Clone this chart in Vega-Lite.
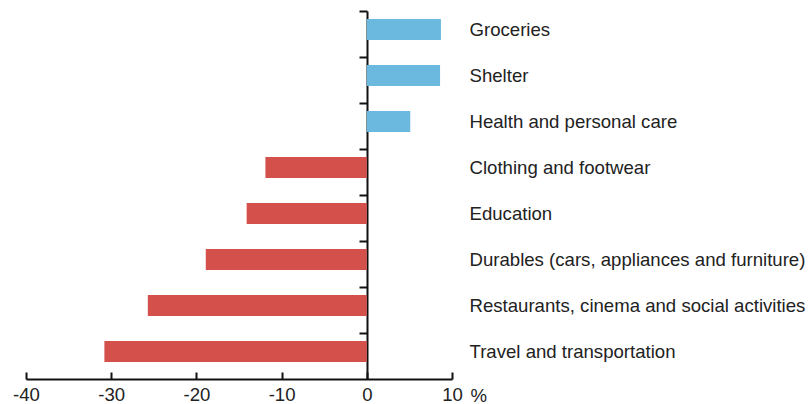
{
  "$schema": "https://vega.github.io/schema/vega-lite/v6.json",
  "autosize": "none",
  "width": 426,
  "height": 368,
  "padding": {"left": 26, "top": 11, "right": 359, "bottom": 25},
  "background": "white",
  "config": {"view": {"stroke": null}, "font": "Liberation Sans"},
  "data": {
    "values": [
      {"category": "Groceries", "change": 8.7},
      {"category": "Shelter", "change": 8.6},
      {"category": "Health and personal care", "change": 5.1},
      {"category": "Clothing and footwear", "change": -11.9},
      {"category": "Education", "change": -14.1},
      {"category": "Durables (cars, appliances and furniture)", "change": -18.9},
      {"category": "Restaurants, cinema and social activities", "change": -25.7},
      {"category": "Travel and transportation", "change": -30.8}
    ]
  },
  "mark": {"type": "bar", "yOffset": -4.5},
  "encoding": {
    "y": {
      "field": "category",
      "type": "nominal",
      "sort": null,
      "scale": {"paddingInner": 0.54, "paddingOuter": 0.27},
      "axis": {
        "orient": "right",
        "offset": -85,
        "title": null,
        "tickOffset": -23,
        "tickSize": -8,
        "tickWidth": 2,
        "tickColor": "#111",
        "domainColor": "#111",
        "domainWidth": 2,
        "labelPadding": 110,
        "labelFontSize": 18.6,
        "labelColor": "#222",
        "labelOffset": 18.5,
        "labelLimit": 400
      }
    },
    "x": {
      "field": "change",
      "type": "quantitative",
      "scale": {"domain": [-40, 10], "nice": false, "zero": false},
      "axis": {
        "values": [-40, -30, -20, -10, 0, 10],
        "labelExpr": "'' + datum.value",
        "labelFlush": false,
        "grid": false,
        "tickSize": -7,
        "tickWidth": 2,
        "tickColor": "#111",
        "domainColor": "#111",
        "domainWidth": 2,
        "labelPadding": 13,
        "labelFontSize": 18.6,
        "labelColor": "#222",
        "title": "%",
        "titleFontSize": 18.6,
        "titleFontWeight": "normal",
        "titleColor": "#222",
        "titleAnchor": "start",
        "titleAlign": "left",
        "titleX": 444,
        "titleY": 7,
        "titleBaseline": "top"
      }
    },
    "color": {
      "condition": {"test": "datum.change > 0", "value": "#6bb9de"},
      "value": "#d4504b"
    }
  }
}
